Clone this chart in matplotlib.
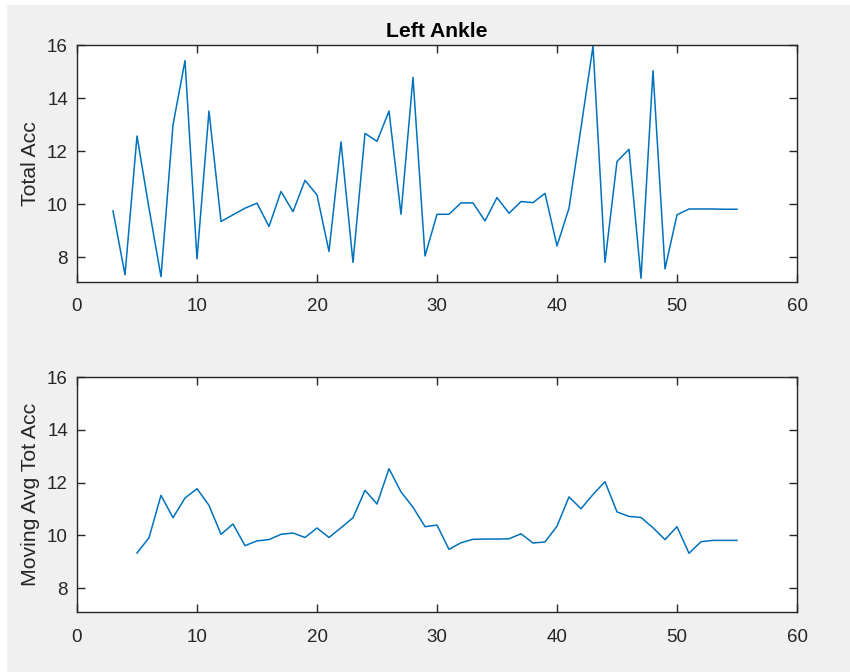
import matplotlib
matplotlib.use("Agg")
import matplotlib.pyplot as plt
from matplotlib.patches import Rectangle

plt.rcParams['font.family'] = ['Liberation Sans', 'DejaVu Sans']

# ---- data ----
x_total = list(range(3, 56))
total_acc = [9.75, 7.34, 12.57, 9.85, 7.27, 12.99, 15.41, 7.94, 13.51, 9.35,
             9.60, 9.85, 10.04, 9.16, 10.48, 9.72, 10.90, 10.35, 8.22, 12.35,
             7.81, 12.67, 12.37, 13.51, 9.62, 14.78, 8.05, 9.62, 9.62, 10.05,
             10.05, 9.37, 10.25, 9.66, 10.10, 10.06, 10.41, 8.43, 9.85, 12.88,
             15.96, 7.81, 11.61, 12.07, 7.21, 15.03, 7.56, 9.60, 9.82, 9.82,
             9.82, 9.81, 9.81]

x_avg = list(range(5, 56))
moving_avg = [9.33, 9.91, 11.52, 10.67, 11.42, 11.77, 11.14, 10.04, 10.43, 9.61,
              9.79, 9.84, 10.04, 10.09, 9.92, 10.28, 9.92, 10.29, 10.67, 11.71,
              11.19, 12.53, 11.65, 11.07, 10.33, 10.39, 9.47, 9.72, 9.85, 9.86,
              9.86, 9.87, 10.06, 9.71, 9.75, 10.35, 11.46, 11.01, 11.55, 12.04,
              10.89, 10.72, 10.68, 10.29, 9.84, 10.33, 9.32, 9.76, 9.81, 9.81,
              9.81]

title = "Left Ankle"
ylabel_top = "Total Acc"
ylabel_bottom = "Moving Avg Tot Acc"
xticks = [0, 10, 20, 30, 40, 50, 60]
yticks = [8, 10, 12, 14, 16]

# ---- figure ----
W, H = 850, 672
fig = plt.figure(figsize=(W / 100, H / 100), dpi=100, facecolor='white')
fig.patches.append(Rectangle((7 / W, 0), 1, 1 - 5 / H, transform=fig.transFigure,
                             facecolor='#f0f0f0', edgecolor='none', zorder=-10))

left = 77 / W
width = (797 - 77) / W
ax1 = fig.add_axes([left, 1 - 281.7 / H, width, (281.7 - 45) / H])
ax2 = fig.add_axes([left, 1 - 612.3 / H, width, (612.3 - 377.3) / H])

line_color = '#0072BD'
axis_color = '#262626'
ax1.plot(x_total, total_acc, color=line_color, lw=1.1)
ax2.plot(x_avg, moving_avg, color=line_color, lw=1.1)

for ax, lab in ((ax1, ylabel_top), (ax2, ylabel_bottom)):
    ax.set_xlim(0, 60)
    ax.set_ylim(7.08, 16)
    ax.set_xticks(xticks)
    ax.set_yticks(yticks)
    ax.set_facecolor('white')
    ax.tick_params(direction='in', length=6, width=1, colors=axis_color,
                   labelsize=13.5, top=True, right=True)
    ax.tick_params(axis='y', pad=6.5)
    ax.tick_params(axis='x', pad=12)
    for s in ax.spines.values():
        s.set_color(axis_color)
        s.set_linewidth(1)
    ax.set_ylabel(lab, fontsize=15.3, color=axis_color, va='center')
    ax.yaxis.set_label_coords((31 - 77) / 720, 0.5)

ax1.set_title(title, fontsize=15.2, fontweight='bold', color='black', pad=6)

fig.savefig('out.png', dpi=100, facecolor=fig.get_facecolor())
